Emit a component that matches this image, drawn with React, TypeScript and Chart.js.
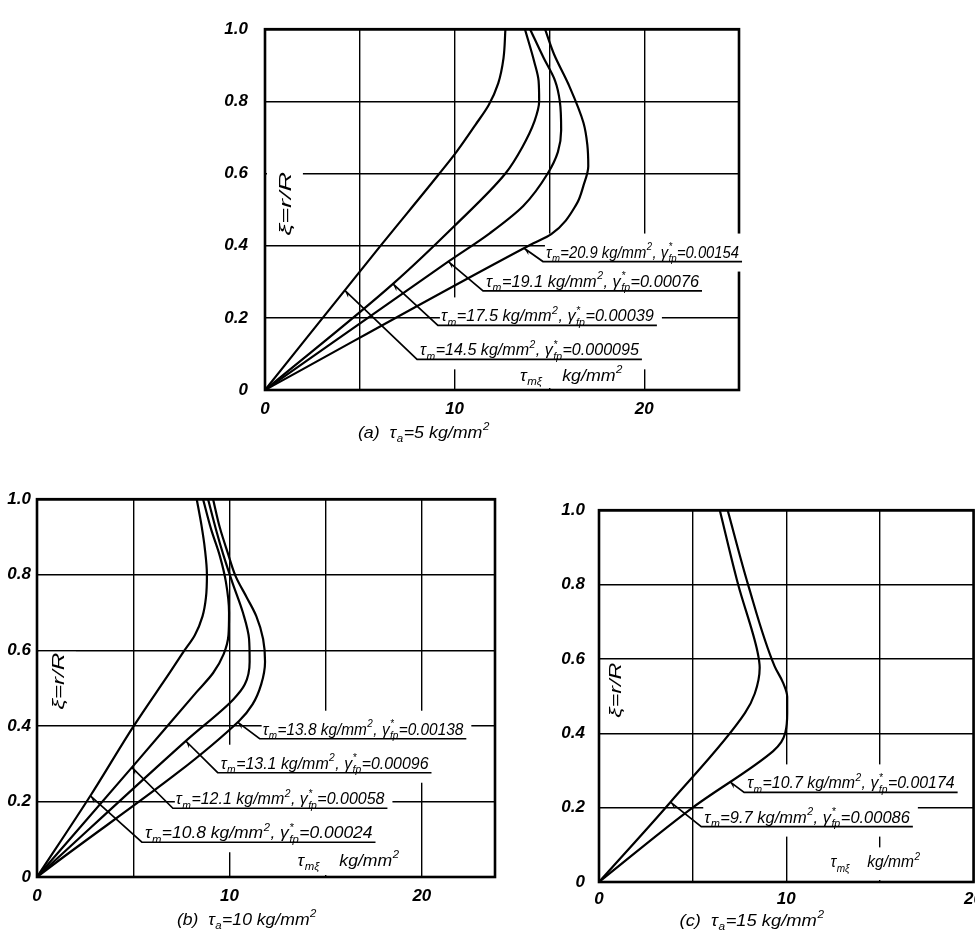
import React, { useEffect, useRef } from 'react';
import { Chart, registerables } from 'chart.js';

Chart.register(...registerables);

// ---------------- data ----------------
const X_GRID = [0, 5, 10, 15, 20, 25];
const Y_TICKS = [0, 0.2, 0.4, 0.6, 0.8, 1.0];
const TAU_A = [5, 10, 15];
const PANEL_TAGS = ['(a)', '(b)', '(c)'];

// (a) tau_a = 5 kg/mm2
const A_TAU_M = [14.5, 17.5, 19.1, 20.9];
const A_GAMMA = ['0.000095', '0.00039', '0.00076', '0.00154'];
const A1_TAU = [0, 6.1, 9.2, 10.1, 11.1, 11.8, 12.3, 12.58, 12.68];
const A1_XI = [0, 0.4, 0.6, 0.66, 0.735, 0.79, 0.85, 0.92, 1.0];
const A2_TAU = [0, 6.75, 10.0, 12.68, 13.57, 14.2, 14.46, 14.43, 14.2, 13.71];
const A2_XI = [0, 0.294, 0.455, 0.6, 0.673, 0.743, 0.8, 0.857, 0.91, 1.0];
const A3_TAU = [0, 9.7, 11.87, 13.62, 14.91, 15.45, 15.62, 15.55, 15.3, 14.7, 13.98];
const A3_XI = [0, 0.357, 0.435, 0.51, 0.6, 0.66, 0.72, 0.8, 0.857, 0.92, 1.0];
const A4_TAU = [0, 13.98, 15.1, 16.43, 16.8, 17.05, 17.0, 16.8, 16.0, 15.25, 14.77];
const A4_XI = [0, 0.402, 0.432, 0.515, 0.567, 0.62, 0.68, 0.74, 0.848, 0.93, 1.0];

// (b) tau_a = 10 kg/mm2
const B_TAU_M = [10.8, 12.1, 13.1, 13.8];
const B_GAMMA = ['0.00024', '0.00058', '0.00096', '0.00138'];
const B1_TAU = [0, 2.8, 5.03, 6.95, 7.6, 8.2, 8.6, 8.78, 8.83, 8.72, 8.55, 8.3];
const B1_XI = [0, 0.217, 0.4, 0.545, 0.595, 0.64, 0.69, 0.74, 0.8, 0.87, 0.93, 1.0];
const B2_TAU = [0, 5.17, 8.3, 9.15, 9.7, 9.95, 9.98, 9.82, 9.5, 9.05, 8.63];
const B2_XI = [0, 0.304, 0.49, 0.54, 0.59, 0.64, 0.7, 0.78, 0.85, 0.92, 1.0];
const B3_TAU = [0, 7.84, 10.2, 10.8, 11.05, 11.02, 10.7, 10.15, 9.7, 9.3, 8.89];
const B3_XI = [0, 0.365, 0.47, 0.51, 0.57, 0.63, 0.7, 0.78, 0.85, 0.92, 1.0];
const B4_TAU = [0, 10.5, 11.2, 11.65, 11.85, 11.75, 11.4, 10.9, 10.33, 9.9, 9.5, 9.15];
const B4_XI = [0, 0.413, 0.457, 0.51, 0.57, 0.63, 0.69, 0.74, 0.795, 0.86, 0.925, 1.0];

// (c) tau_a = 15 kg/mm2
const C_TAU_M = [9.7, 10.7];
const C_GAMMA = ['0.00086', '0.00174'];
const C1_TAU = [0, 3.8, 7.79, 8.32, 8.58, 8.46, 7.43, 6.45];
const C1_XI = [0, 0.214, 0.454, 0.507, 0.576, 0.62, 0.8, 1.0];
const C2_TAU = [0, 5.0, 9.3, 9.73, 9.95, 10.05, 10.05, 9.82, 9.38, 7.96, 6.87];
const C2_XI = [0, 0.2, 0.352, 0.376, 0.402, 0.454, 0.498, 0.537, 0.58, 0.8, 1.0];

// ---------------- layout ----------------
const FONT = '"Liberation Sans", Arial, sans-serif';
const PAD_T = 14;
const PAD_R = 14;
const Y_W = 50;
const X_H = 62;

const PANELS = [
  {
    area: { l: 265, t: 16, r: 739, b: 390 },
    xMax: 25, yPad: 17, xPad: 9,
    curves: [[A1_TAU, A1_XI], [A2_TAU, A2_XI], [A3_TAU, A3_XI], [A4_TAU, A4_XI]],
    tauM: A_TAU_M, gamma: A_GAMMA, tag: PANEL_TAGS[0], tauA: TAU_A[0],
    labels: [
      { c: 3, at: 0.393, elbow: [14.66, 0.356], end: 25.16 },
      { c: 2, at: 0.356, elbow: [11.5, 0.275], end: 23.05 },
      { c: 1, at: 0.294, elbow: [9.12, 0.179], end: 20.67 },
      { c: 0, at: 0.276, elbow: [8.02, 0.085], end: 19.88 },
    ],
    yTitle: [1.05, 0.516, 64], xTitle: [13.45, 0.02, 103], caption: [4.9, 48, 132],
  },
  {
    area: { l: 37, t: 497, r: 495, b: 877 },
    xMax: 23.8, yPad: 6, xPad: 9,
    curves: [[B1_TAU, B1_XI], [B2_TAU, B2_XI], [B3_TAU, B3_XI], [B4_TAU, B4_XI]],
    tauM: B_TAU_M, gamma: B_GAMMA, tag: PANEL_TAGS[1], tauA: TAU_A[1],
    labels: [
      { c: 3, at: 0.41, elbow: [11.57, 0.366], end: 22.31 },
      { c: 2, at: 0.36, elbow: [9.39, 0.276], end: 20.5 },
      { c: 1, at: 0.29, elbow: [7.06, 0.182], end: 18.21 },
      { c: 0, at: 0.215, elbow: [5.45, 0.092], end: 17.59 },
    ],
    yTitle: [1.09, 0.518, 57], xTitle: [13.54, 0.024, 102], caption: [7.27, 48, 140],
  },
  {
    area: { l: 599, t: 500, r: 976, b: 882 },
    xMax: 20, yPad: 14, xPad: 7,
    curves: [[C1_TAU, C1_XI], [C2_TAU, C2_XI]],
    tauM: C_TAU_M, gamma: C_GAMMA, tag: PANEL_TAGS[2], tauA: TAU_A[2],
    labels: [
      { c: 1, at: 0.27, elbow: [7.75, 0.241], end: 19.15 },
      { c: 0, at: 0.215, elbow: [5.46, 0.149], end: 16.76 },
    ],
    yTitle: [0.85, 0.516, 55], xTitle: [12.36, 0.034, 90], caption: [4.3, 44, 145],
  },
];

// ---------------- rich text ----------------
type Seg = { t: string; k?: 'sub' | 'sup' | 'both'; t2?: string };

function richWidth(ctx: CanvasRenderingContext2D, segs: Seg[], size: number) {
  const main = `italic ${size}px ${FONT}`;
  const small = `italic ${Math.round(size * 0.66)}px ${FONT}`;
  let w = 0;
  for (const s of segs) {
    if (!s.k) {
      ctx.font = main;
      w += ctx.measureText(s.t).width;
    } else {
      ctx.font = small;
      const a = ctx.measureText(s.t).width;
      const b = s.t2 ? ctx.measureText(s.t2).width : 0;
      w += Math.max(a, b) + 1;
    }
  }
  return w;
}

function drawRich(ctx: CanvasRenderingContext2D, segs: Seg[], x: number, y: number, size: number, targetW?: number) {
  const w = richWidth(ctx, segs, size);
  const sx = targetW ? targetW / w : 1;
  const main = `italic ${size}px ${FONT}`;
  const small = `italic ${Math.round(size * 0.66)}px ${FONT}`;
  ctx.save();
  ctx.translate(x, y);
  ctx.scale(sx, 1);
  ctx.textAlign = 'left';
  ctx.textBaseline = 'alphabetic';
  ctx.fillStyle = '#000';
  let cx = 0;
  for (const s of segs) {
    if (!s.k) {
      ctx.font = main;
      ctx.fillText(s.t, cx, 0);
      cx += ctx.measureText(s.t).width;
    } else {
      ctx.font = small;
      const subY = size * 0.26;
      const supY = -size * 0.45;
      if (s.k === 'sub') ctx.fillText(s.t, cx + 0.5, subY);
      else if (s.k === 'sup') ctx.fillText(s.t, cx + 0.5, supY);
      else {
        ctx.fillText(s.t, cx + 0.5, supY);
        ctx.fillText(s.t2 || '', cx + 0.5, subY);
      }
      const a = ctx.measureText(s.t).width;
      const b = s.t2 ? ctx.measureText(s.t2).width : 0;
      cx += Math.max(a, b) + 1;
    }
  }
  ctx.restore();
  return w * sx;
}

function curveLabel(tm: number, g: string): Seg[] {
  return [
    { t: 'τ' }, { t: 'm', k: 'sub' }, { t: `=${tm.toFixed(1)} kg/mm` }, { t: '2', k: 'sup' },
    { t: ', γ' }, { t: '*', k: 'both', t2: 'fp' }, { t: `=${g}` },
  ];
}

function tauAt(xs: number[], zs: number[], z: number) {
  for (let i = 1; i < zs.length; i++) {
    if (zs[i] >= z) {
      const t = (z - zs[i - 1]) / (zs[i] - zs[i - 1]);
      return xs[i - 1] + t * (xs[i] - xs[i - 1]);
    }
  }
  return xs[xs.length - 1];
}

const LABEL_SIZE = 17;

function makePlugin(p: any) {
  return {
    id: 'paper',
    beforeDatasetsDraw(chart: any) {
      const { ctx, chartArea: a, scales } = chart;
      const X = (v: number) => scales.x.getPixelForValue(v);
      const Y = (v: number) => scales.y.getPixelForValue(v);
      ctx.save();
      ctx.strokeStyle = '#000';
      ctx.lineWidth = 2.6;
      ctx.strokeRect(a.left, a.top, a.right - a.left, a.bottom - a.top);
      ctx.fillStyle = '#fff';
      for (const L of p.labels) {
        const ex = X(L.elbow[0]);
        const ey = Y(L.elbow[1]);
        const fx = X(L.end);
        ctx.fillRect(ex + 2, ey - 28, fx - ex + 3, 38);
      }
      // y title box
      const yx = X(p.yTitle[0]);
      const yy = Y(p.yTitle[1]);
      ctx.fillRect(a.left + 2, yy - p.yTitle[2] / 2 - 1, yx + 16 - a.left, p.yTitle[2] + 2);
      // x title box (down to the axis)
      const tx = X(p.xTitle[0]);
      const ty = Y(p.xTitle[1]);
      ctx.fillRect(tx - 4, ty - 22, p.xTitle[2] + 8, a.bottom - (ty - 22) - 2);
      ctx.restore();
    },
    afterDatasetsDraw(chart: any) {
      const { ctx, chartArea: a, scales } = chart;
      const X = (v: number) => scales.x.getPixelForValue(v);
      const Y = (v: number) => scales.y.getPixelForValue(v);
      ctx.save();
      ctx.strokeStyle = '#000';
      ctx.fillStyle = '#000';
      // curve labels with leaders
      for (const L of p.labels) {
        const [xs, zs] = p.curves[L.c];
        const px = X(tauAt(xs, zs, L.at));
        const py = Y(L.at);
        const ex = X(L.elbow[0]);
        const ey = Y(L.elbow[1]);
        const fx = X(L.end);
        ctx.lineWidth = 1.7;
        ctx.beginPath();
        ctx.moveTo(px, py);
        ctx.lineTo(ex, ey);
        ctx.lineTo(fx, ey);
        ctx.stroke();
        // arrow head
        const dx = px - ex;
        const dy = py - ey;
        const len = Math.hypot(dx, dy) || 1;
        const ux = dx / len;
        const uy = dy / len;
        const ah = 8;
        const ang = 0.38;
        ctx.beginPath();
        ctx.moveTo(px, py);
        ctx.lineTo(px - ah * (ux * Math.cos(ang) - uy * Math.sin(ang)), py - ah * (uy * Math.cos(ang) + ux * Math.sin(ang)));
        ctx.lineTo(px - ah * 0.6 * ux, py - ah * 0.6 * uy);
        ctx.closePath();
        ctx.fill();
        drawRich(ctx, curveLabel(p.tauM[L.c], p.gamma[L.c]), ex + 3, ey - 4, LABEL_SIZE, fx - ex - 6);
      }
      // y title (rotated)
      const yx = X(p.yTitle[0]);
      const yy = Y(p.yTitle[1]);
      ctx.save();
      ctx.translate(yx + 6, yy + p.yTitle[2] / 2);
      ctx.rotate(-Math.PI / 2);
      drawRich(ctx, [{ t: 'ξ=r/R' }], 0, 0, 17, p.yTitle[2]);
      ctx.restore();
      // x title
      drawRich(
        ctx,
        [{ t: 'τ' }, { t: 'mξ', k: 'sub' }, { t: '    kg/mm' }, { t: '2', k: 'sup' }],
        X(p.xTitle[0]), Y(p.xTitle[1]) - 2, 17, p.xTitle[2],
      );
      // caption
      drawRich(
        ctx,
        [{ t: `${p.tag}  τ` }, { t: 'a', k: 'sub' }, { t: `=${p.tauA} kg/mm` }, { t: '2', k: 'sup' }],
        X(p.caption[0]), a.bottom + p.caption[1], 17, p.caption[2],
      );
      ctx.restore();
    },
  };
}

function Panel({ p }: { p: any }) {
  const ref = useRef<HTMLCanvasElement | null>(null);
  const { l, t, r, b } = p.area;
  const W = r - l + Y_W + PAD_R;
  const H = b - t + PAD_T + X_H;
  useEffect(() => {
    if (!ref.current) return;
    const tickFont = { family: FONT, size: 17, style: 'italic' as const, weight: 'bold' as const };
    const chart = new Chart(ref.current, {
      type: 'line',
      data: {
        datasets: p.curves.map(([xs, zs]: number[][]) => ({
          data: xs.map((x: number, i: number) => ({ x, y: zs[i] })),
          borderColor: '#000',
          borderWidth: 2.2,
          pointRadius: 0,
          cubicInterpolationMode: 'monotone',
          fill: false,
        })),
      },
      options: {
        indexAxis: 'y',
        responsive: false,
        animation: false,
        devicePixelRatio: 1,
        events: [],
        layout: { padding: { left: 0, top: PAD_T, right: PAD_R, bottom: 0 } },
        plugins: { legend: { display: false }, tooltip: { enabled: false } },
        scales: {
          x: {
            type: 'linear',
            position: 'bottom',
            min: 0,
            max: p.xMax,
            afterFit: (s: any) => { s.height = X_H; },
            afterBuildTicks: (s: any) => { s.ticks = X_GRID.filter((v) => v <= p.xMax).map((v) => ({ value: v })); },
            grid: { color: '#000', lineWidth: 1.4, drawTicks: false },
            border: { display: false },
            ticks: {
              padding: p.xPad,
              color: '#000',
              font: tickFont,
              autoSkip: false,
              maxRotation: 0,
              callback: (v: any) => (Number(v) % 10 === 0 && Number(v) !== 25 ? String(v) : ''),
            },
          },
          y: {
            type: 'linear',
            position: 'left',
            min: 0,
            max: 1,
            afterFit: (s: any) => { s.width = Y_W; },
            afterBuildTicks: (s: any) => { s.ticks = Y_TICKS.map((v) => ({ value: v })); },
            grid: { color: '#000', lineWidth: 1.4, drawTicks: false },
            border: { display: false },
            ticks: {
              padding: p.yPad,
              color: '#000',
              font: tickFont,
              autoSkip: false,
              callback: (v: any) => (Number(v) === 0 ? '0' : Number(v).toFixed(1)),
            },
          },
        },
      },
      plugins: [makePlugin(p)],
    });
    return () => chart.destroy();
  }, []);
  return (
    <canvas
      ref={ref}
      width={W}
      height={H}
      style={{ position: 'absolute', left: l - Y_W, top: t - PAD_T, width: W, height: H }}
    />
  );
}

export default function App() {
  return (
    <div
      style={{
        position: 'fixed', left: 0, top: 0, width: 975, height: 934,
        overflow: 'hidden', background: '#fff',
      }}
    >
      {PANELS.map((p, i) => (
        <Panel key={i} p={p} />
      ))}
    </div>
  );
}
